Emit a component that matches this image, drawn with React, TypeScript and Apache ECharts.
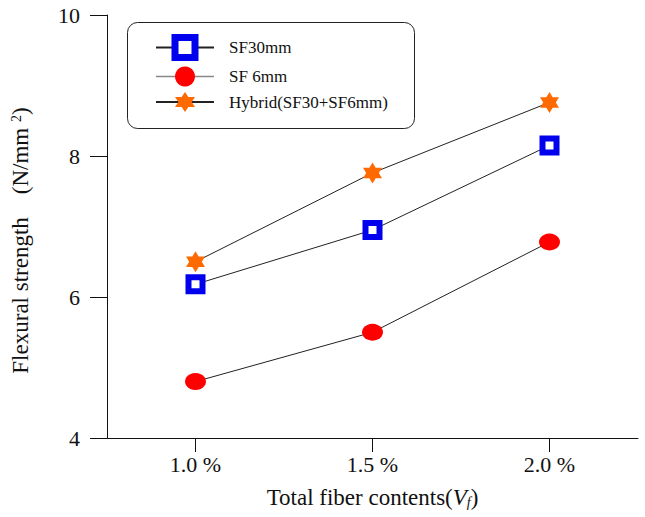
import React, { useEffect, useRef } from "react";
import * as echarts from "echarts";

const categories = ["1.0 %", "1.5 %", "2.0 %"];
const sf30 = [6.18, 6.95, 8.15];
const sf6 = [4.8, 5.5, 6.78];
const hybrid = [6.5, 7.76, 8.76];
const seriesNames = ["SF30mm", "SF 6mm", "Hybrid(SF30+SF6mm)"];

const FONT = "Liberation Serif";
const hexagram =
  "path://M0,-10 L2.887,-5 L8.66,-5 L5.774,0 L8.66,5 L2.887,5 L0,10 L-2.887,5 L-8.66,5 L-5.774,0 L-8.66,-5 L-2.887,-5 Z";

export default function App() {
  const ref = useRef<HTMLDivElement>(null);
  useEffect(() => {
    const chart = echarts.init(ref.current!, undefined, { renderer: "svg" });
    const lineStyle = { color: "#222", width: 1 };
    chart.setOption({
      animation: false,
      backgroundColor: "#fff",
      textStyle: { fontFamily: FONT },
      grid: { left: 107, right: 7, top: 15, bottom: 79, outerBoundsMode: "none", containLabel: false },
      graphic: [
        {
          type: "rect",
          left: 127,
          top: 22,
          shape: { width: 287, height: 106, r: 10 },
          style: { fill: "#fff", stroke: "#222", lineWidth: 1 },
          z: 0,
        },
      ],
      legend: {
        orient: "vertical",
        left: 150,
        top: 29,
        itemWidth: 58,
        itemHeight: 25,
        itemGap: 5.5,
        z: 10,
        textStyle: { fontFamily: FONT, fontSize: 17, color: "#111", padding: [0, 0, 0, 10] },
        data: [
          { name: seriesNames[0], itemStyle: { borderWidth: 7 } },
          { name: seriesNames[1], lineStyle: { color: "#888", width: 1.5 } },
          { name: seriesNames[2] },
        ],
      },
      xAxis: {
        type: "category",
        data: categories,
        boundaryGap: true,
        axisLine: { show: true, lineStyle: { color: "#111", width: 1 } },
        axisTick: { show: true, alignWithLabel: true, length: 14, lineStyle: { color: "#111", width: 1 } },
        axisLabel: { fontFamily: FONT, fontSize: 22, color: "#111", margin: 15 },
        name: "{a|Total fiber contents(}{i|V}{s|f}{a|)}",
        nameLocation: "middle",
        nameGap: 48,
        nameTextStyle: {
          rich: {
            a: { fontFamily: FONT, fontSize: 23, color: "#111" },
            i: { fontFamily: FONT, fontSize: 23, fontStyle: "italic", color: "#111" },
            s: { fontFamily: FONT, fontSize: 14, fontStyle: "italic", color: "#111", verticalAlign: "bottom", padding: [6, 0, 0, 0] },
          },
        },
      },
      yAxis: {
        type: "value",
        min: 4,
        max: 10,
        interval: 2,
        splitLine: { show: false },
        axisLine: { show: true, lineStyle: { color: "#111", width: 1 } },
        axisTick: { show: true, inside: false, length: 17, lineStyle: { color: "#111", width: 1 } },
        axisLabel: { fontFamily: FONT, fontSize: 22, color: "#111", margin: 27 },
        name: "{a|Flexural strength    (N/mm }{s|2}{a|)}",
        nameLocation: "middle",
        nameGap: 75,
        nameRotate: 90,
        nameTextStyle: {
          padding: [0, 28, 0, 0],
          rich: {
            a: { fontFamily: FONT, fontSize: 23, color: "#111" },
            s: { fontFamily: FONT, fontSize: 14, color: "#111", verticalAlign: "top", padding: [0, 0, 8, 0] },
          },
        },
      },
      series: [
        {
          name: seriesNames[0],
          type: "line",
          data: sf30,
          symbol: "rect",
          symbolSize: 14,
          lineStyle,
          itemStyle: { color: "#fff", borderColor: "#0000ee", borderWidth: 6 },
          z: 3,
        },
        {
          name: seriesNames[1],
          type: "line",
          data: sf6,
          symbol: "circle",
          symbolSize: [21, 17],
          lineStyle,
          itemStyle: { color: "#ff0000", borderWidth: 0 },
          z: 3,
        },
        {
          name: seriesNames[2],
          type: "line",
          data: hybrid,
          symbol: hexagram,
          symbolSize: [19, 21],
          lineStyle,
          itemStyle: { color: "#ff6a00", borderWidth: 0 },
          z: 3,
        },
      ],
    });
    return () => chart.dispose();
  }, []);
  return <div ref={ref} style={{ width: 645, height: 517, position: "fixed", left: 0, top: 0 }} />;
}
